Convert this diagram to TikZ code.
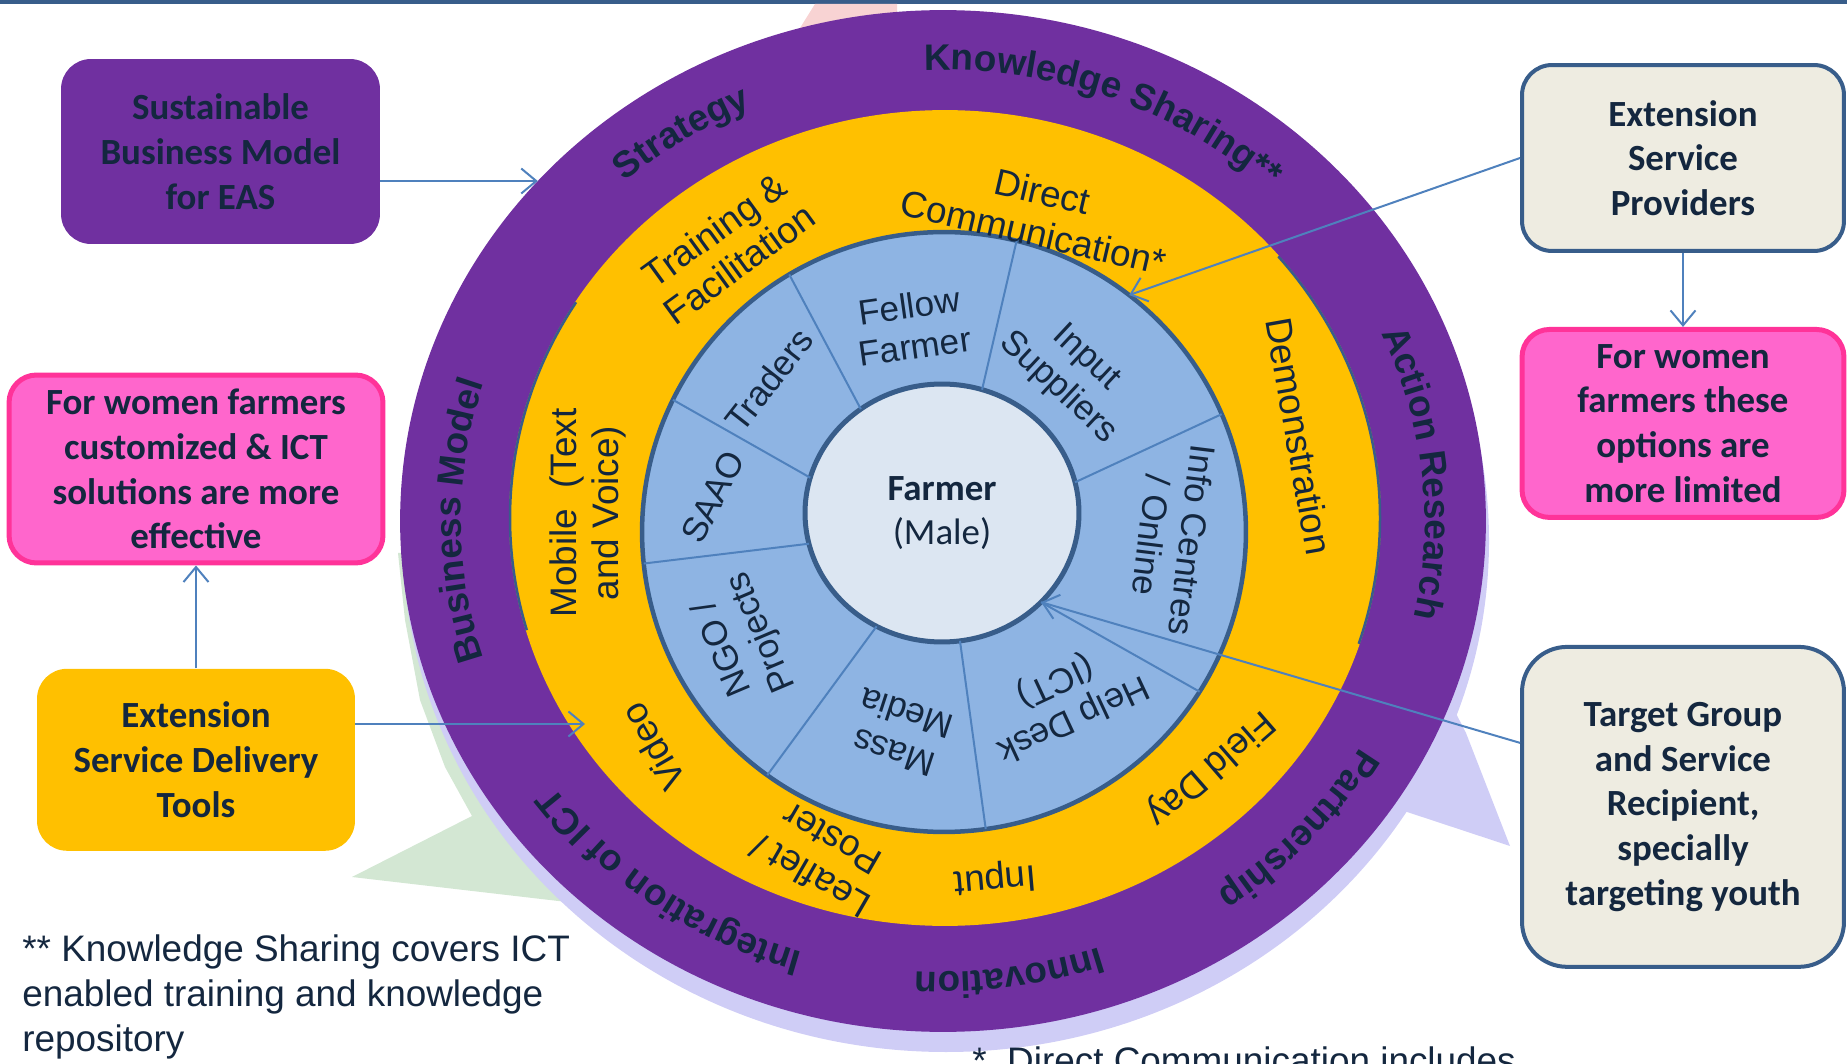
\documentclass[tikz,border=0pt]{standalone}
\usepackage{fontspec}
\setmainfont{Liberation Sans}
\newfontfamily\calibri{Carlito}
\usetikzlibrary{shapes.geometric, arrows.meta, positioning, decorations.text}

\definecolor{ringpurple}{HTML}{7030A0}
\definecolor{ringgold}{HTML}{FFC000}
\definecolor{ringblue}{HTML}{8EB4E3}
\definecolor{corefill}{HTML}{DCE6F2}
\definecolor{edgeblue}{HTML}{385D8A}
\definecolor{linkblue}{HTML}{4F81BD}
\definecolor{inkblue}{HTML}{14273F}
\definecolor{womenpink}{HTML}{FF66CC}
\definecolor{womenedge}{HTML}{FF3399}
\definecolor{paper}{HTML}{EEECE1}
\definecolor{shadelav}{HTML}{CFCDF6}
\definecolor{shadegreen}{HTML}{D3E7D3}
\definecolor{shadepink}{HTML}{F8D3D3}

\newcommand{\ringbold}{\bfseries\fontsize{21}{25}\selectfont}

\tikzstyle{boxtext} = [rectangle, align=center, text=inkblue, inner sep=0pt, font=\calibri\bfseries\fontsize{21}{25.5}\selectfont]
\tikzstyle{modelbox} = [boxtext, rounded corners=0.6cm, minimum width=6.38cm, minimum height=3.7cm, fill=ringpurple]
\tikzstyle{womenbox} = [boxtext, rounded corners=0.55cm, minimum height=3.76cm, fill=womenpink, draw=womenedge, line width=0.1cm]
\tikzstyle{toolbox} = [boxtext, rounded corners=0.6cm, minimum width=6.36cm, minimum height=3.64cm, fill=ringgold]
\tikzstyle{providerbox} = [boxtext, rounded corners=0.6cm, minimum width=6.44cm, minimum height=3.72cm, fill=paper, draw=edgeblue, line width=0.08cm]
\tikzstyle{ringshape} = [ellipse, inner sep=0pt, outer sep=0pt]
\tikzstyle{blueword} = [align=center, text=inkblue, inner sep=0pt, font=\fontsize{20}{23.3}\selectfont]
\tikzstyle{goldword} = [align=center, text=inkblue, inner sep=0pt, font=\fontsize{21}{24}\selectfont]
\tikzstyle{ringword} = [decorate, decoration={text along path, text align=center, text color=inkblue}]
\tikzstyle{divider} = [linkblue, line width=0.04cm]
\tikzstyle{notetext} = [align=left, text=inkblue, inner sep=0pt, font=\fontsize{21}{25.5}\selectfont]
\tikzstyle{linkarrow} = [linkblue, line width=0.04cm, -{Straight Barb[length=0.3cm, width=0.5cm]}]

\begin{document}
\begin{tikzpicture}[x=0.02cm, y=0.02cm]
\useasboundingbox (0,0) rectangle (1847,1063);
\clip (0,0) rectangle (1847,1063);

% Background shapes
\fill[edgeblue] (0,1058.5) rectangle (1847,1063);
\fill[shadepink] (815,1059) -- (897,1059) -- (897,1003) -- (780,1003) -- cycle;
\fill[shadegreen] (352,186) -- (472,247) -- (445,296) -- (420,363) -- (405,443) -- (398,510) -- (700,510) -- (700,153) -- (567,161) -- cycle;
\fill[shadelav] (946,522) ellipse [x radius=543, y radius=511];
\fill[shadelav] (1420,420) -- (1466,330) -- (1510,217) -- (1395,255) -- (1300,300) -- cycle;

% Rings
\node (outerring) [ringshape, fill=ringpurple, minimum width=21.72cm, minimum height=20.44cm] at (943,542) {};
\node (goldring) [ringshape, fill=ringgold, minimum width=17.44cm, minimum height=16.32cm] at (945,545) {};
\begin{scope}[shift={(945,545)}]
\draw[edgeblue, line width=0.05cm] (148:435 and 407) arc[start angle=148, end angle=196, x radius=435, y radius=407];
\draw[edgeblue, line width=0.05cm] (40:435 and 407) arc[start angle=40, end angle=-18, x radius=435, y radius=407];
\end{scope}
\node (bluering) [ringshape, fill=ringblue, draw=edgeblue, line width=0.09cm, minimum width=12.08cm, minimum height=12cm] at (944,531) {};
\node (farmer) [ringshape, fill=corefill, draw=edgeblue, line width=0.1cm, minimum width=5.48cm, minimum height=5.16cm, align=center, text=inkblue, font=\calibri\fontsize{21}{25.5}\selectfont] at (942,550) {\textbf{Farmer}\\(Male)};

% Dividers
\draw[divider] (farmer.128.7) -- (bluering.121);
\draw[divider] (farmer.72.2) -- (bluering.76.3);
\draw[divider] (farmer.13.2) -- (bluering.23.5);
\draw[divider] (farmer.-42) -- (bluering.-32.7);
\draw[divider] (farmer.-82.9) -- (bluering.-82.4);
\draw[divider] (farmer.-120.8) -- (bluering.-126.1);
\draw[divider] (farmer.193) -- (bluering.186.7);
\draw[divider] (farmer.165.3) -- (bluering.154);

% Blue ring words
\node (fellow) [blueword, rotate=8] at (912,737) {Fellow\\Farmer};
\node (traders) [blueword, rotate=52] at (769,683) {Traders};
\node (suppliers) [blueword, rotate=-43] at (1072,690) {Input\\Suppliers};
\node (saao) [blueword, rotate=63] at (713,566) {SAAO};
\node (info) [blueword, rotate=-97] at (1172,525) {Info Centres\\/ Online};
\node (helpdesk) [blueword, rotate=-155] at (1064,364) {Help Desk\\(ICT)};
\node (mass) [blueword, rotate=162] at (900,330) {Mass\\Media};
\node (ngo) [blueword, rotate=113] at (743,423) {NGO /\\Projects};

% Gold ring words
\node (training) [goldword, rotate=36] at (727,816) {Training \&\\Facilitation};
\node (direct) [goldword, rotate=-13] at (1038,851) {Direct\\Communication*};
\node (demo) [goldword, rotate=-80] at (1299,627) {Demonstration};
\node (field) [goldword, rotate=-139] at (1210,295) {Field Day};
\node (inputword) [goldword, rotate=185] at (995,185) {Input};
\node (leaflet) [goldword, rotate=150] at (821,205) {Leaflet /\\Poster};
\node (video) [goldword, rotate=120] at (653,316) {Video};
\node (mobile) [goldword, rotate=90] at (588,550) {Mobile \ (Text\\and Voice)};

% Purple ring words
\begin{scope}[shift={(943,542)}]
\path[ringword, decoration={text={|\ringbold|Strategy}}] (163:482 and 451) arc[start angle=163, end angle=83, x radius=482, y radius=451];
\path[ringword, decoration={text={|\ringbold|Knowledge Sharing**}}] (109.5:482 and 451) arc[start angle=109.5, end angle=29.5, x radius=482, y radius=451];
\path[ringword, decoration={text={|\ringbold|Action Research}}] (46:482 and 451) arc[start angle=46, end angle=-34, x radius=482, y radius=451];
\path[ringword, decoration={text={|\ringbold|Partnership}}] (-2:482 and 451) arc[start angle=-2, end angle=-82, x radius=482, y radius=451];
\path[ringword, decoration={text={|\ringbold|Innovation}}] (-42:482 and 451) arc[start angle=-42, end angle=-122, x radius=482, y radius=451];
\path[ringword, decoration={text={|\ringbold|Integration of ICT}}] (274:482 and 451) arc[start angle=274, end angle=194, x radius=482, y radius=451];
\path[ringword, decoration={text={|\ringbold|Business Model}}] (220:482 and 451) arc[start angle=220, end angle=140, x radius=482, y radius=451];
\end{scope}

% Boxes
\node (sbm) [modelbox] at (220.5,911.5) {Sustainable\\Business Model\\for EAS};
\node (pinkL) [womenbox, minimum width=7.48cm] at (196,594) {For women farmers\\customized \& ICT\\solutions are more\\effective};
\node (tools) [toolbox, below=2.06cm of pinkL] {Extension\\Service Delivery\\Tools};
\node (esp) [providerbox] at (1683,905) {Extension\\Service\\Providers};
\node (pinkR) [womenbox, minimum width=6.44cm, below=1.48cm of esp] {For women\\farmers these\\options are\\more limited};
\node (target) [providerbox, minimum height=6.4cm, rounded corners=0.9cm, below=2.5cm of pinkR] {Target Group\\and Service\\Recipient,\\specially\\targeting youth};

% Notes
\node (notetwo) [notetext, anchor=west] at (22,66) {** Knowledge Sharing covers ICT\\enabled training and knowledge\\repository};
\node (noteone) [notetext, anchor=base west] at (972,-10) {*\ \ Direct Communication includes};

% Arrows
\coordinate (videotip) at (585,339);
\draw[linkarrow] (sbm.east |- outerring.140) -- (outerring.140);
\draw[linkarrow] (tools.north) -- (tools.north |- pinkL.south);
\draw[linkarrow] (tools.east |- videotip) -- (videotip);
\draw[linkarrow] (esp.west) -- (bluering.52);
\draw[linkarrow] (esp.south) -- (pinkR.north);
\draw[linkarrow] (target.west) ++(0,64) -- (farmer.-42);

\end{tikzpicture}
\end{document}
